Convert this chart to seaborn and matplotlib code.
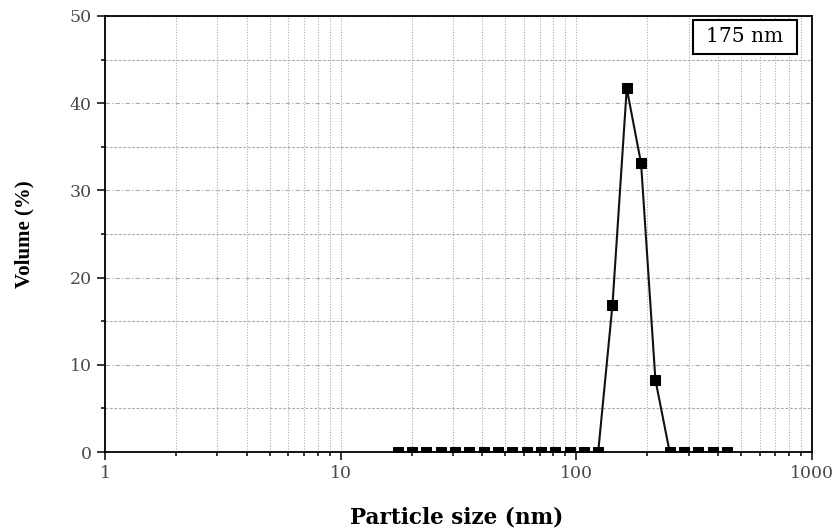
import matplotlib
matplotlib.use("Agg")
import matplotlib.pyplot as plt
import matplotlib.ticker as mticker
from matplotlib.patches import Rectangle
import seaborn as sns
import pandas as pd

# Particle size distribution (volume %)
sizes = [17.5, 20.1, 23.1, 26.6, 30.6, 35.2, 40.5, 46.6, 53.6, 61.6,
         70.8, 81.4, 93.7, 107.7, 123.9, 142.5, 163.8, 188.4, 216.7,
         249.2, 286.6, 329.5, 379.0, 436.0]
volume = [0, 0, 0, 0, 0, 0, 0, 0, 0, 0,
          0, 0, 0, 0, 0, 16.9, 41.7, 33.1, 8.3,
          0, 0, 0, 0, 0]
x_ticks = [1, 10, 100, 1000]
x_tick_labels = ["1", "10", "100", "1000"]
y_ticks = [0, 10, 20, 30, 40, 50]
mean_label = "175 nm"

df = pd.DataFrame({"size": sizes, "volume": volume})

sns.set_style("white")
plt.rcParams["font.family"] = ["DejaVu Serif"]

fig = plt.figure(figsize=(8.37, 5.30), dpi=100)
ax = fig.add_axes([0.1254, 0.147, 0.970 - 0.1254, 0.970 - 0.147])

sns.lineplot(data=df, x="size", y="volume", ax=ax, color="#111111",
             linewidth=1.5, marker="s", markersize=7,
             markerfacecolor="black", markeredgecolor="black",
             sort=False, errorbar=None)

ax.set_xscale("log")
ax.set_xlim(1, 1000)
ax.set_ylim(0, 50)

ax.xaxis.set_major_locator(mticker.FixedLocator(x_ticks))
ax.xaxis.set_major_formatter(mticker.FixedFormatter(x_tick_labels))
ax.xaxis.set_minor_locator(mticker.LogLocator(base=10, subs=range(2, 10)))
ax.xaxis.set_minor_formatter(mticker.NullFormatter())
ax.yaxis.set_major_locator(mticker.FixedLocator(y_ticks))
ax.yaxis.set_minor_locator(mticker.MultipleLocator(5))

# grid lines
ax.grid(False)
ax.xaxis.grid(True, which="both", color="#ababab", linestyle=(0, (1, 1.5)), linewidth=0.8)
ax.yaxis.grid(True, which="major", color="#ababab", linestyle=(0, (4, 2, 1, 2)), linewidth=0.8)
ax.yaxis.grid(True, which="minor", color="#ababab", linestyle=(0, (2.5, 1.5)), linewidth=0.8)
ax.set_axisbelow(True)

for side in ["left", "bottom", "top", "right"]:
    ax.spines[side].set_visible(True)
    ax.spines[side].set_color("black")
    ax.spines[side].set_linewidth(1.3)

ax.tick_params(axis="both", which="major", direction="out", length=5.5, width=1.1,
               color="black", labelsize=12.5, labelcolor="#4a4a4a", pad=4)
ax.tick_params(axis="both", which="minor", direction="out", length=3, width=1.1,
               color="black")
ax.tick_params(axis="x", which="both", bottom=True, top=False)
ax.tick_params(axis="y", which="both", left=True, right=False)

ax.set_xlabel("Particle size (nm)", family=["DejaVu Serif"], fontweight="bold",
              fontsize=15.5, color="black")
ax.set_ylabel("Volume (%)", family=["Liberation Serif"], fontweight="bold",
              fontsize=15, color="black")
ax.xaxis.set_label_coords(0.497, -0.125)
ax.yaxis.set_label_coords(-0.100, 0.5)

# mean size box
ax.add_patch(Rectangle((0.8317, 0.9128), 0.1471, 0.078, transform=ax.transAxes,
                       facecolor="white", edgecolor="black", linewidth=1.5, zorder=5))
ax.text(0.905, 0.952, mean_label, transform=ax.transAxes, ha="center", va="center",
        family=["DejaVu Serif"], fontsize=14.5, color="black", zorder=6)

fig.savefig("out.png", dpi=100)
plt.close(fig)
